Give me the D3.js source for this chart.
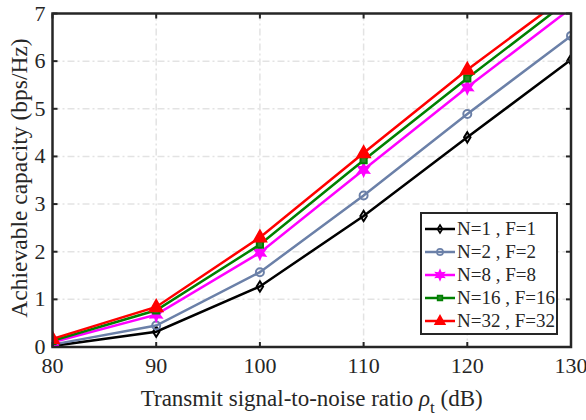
<!DOCTYPE html>
<html>
<head>
<script src="https://cdn.jsdelivr.net/npm/d3@7"></script>
<style>
  body { margin: 0; background: #fff; }
</style>
</head>
<body>
<div id="chart"></div>
<script>
// data
const snr = [80, 90, 100, 110, 120, 130];
const capN1 = [0.02, 0.32, 1.27, 2.75, 4.40, 6.03];
const capN2 = [0.05, 0.45, 1.57, 3.18, 4.89, 6.53];
const capN8 = [0.10, 0.68, 1.98, 3.72, 5.45, 7.11];
const capN16 = [0.13, 0.77, 2.15, 3.92, 5.64, 7.31];
const capN32 = [0.17, 0.84, 2.30, 4.07, 5.82, 7.44];
const seriesNames = ["N=1 , F=1", "N=2 , F=2", "N=8 , F=8", "N=16 , F=16", "N=32 , F=32"];
const xTicks = [80, 90, 100, 110, 120, 130];
const yTicks = [0, 1, 2, 3, 4, 5, 6, 7];

const series = [
  { name: seriesNames[0], values: capN1, color: "#000000", marker: "diamond" },
  { name: seriesNames[1], values: capN2, color: "#6b80a8", marker: "circle" },
  { name: seriesNames[2], values: capN8, color: "#ff00ff", marker: "hexagram" },
  { name: seriesNames[3], values: capN16, color: "#008000", marker: "square" },
  { name: seriesNames[4], values: capN32, color: "#ff0000", marker: "triangle" }
];

const FONT = "Liberation Serif";
const W = 586, H = 420;
const margin = { top: 13.5, right: 15, bottom: 73, left: 52.5 };
const width = W - margin.left - margin.right;
const height = H - margin.top - margin.bottom;

const svg = d3.select("#chart").append("svg")
  .attr("width", W).attr("height", H)
  .attr("font-family", FONT);
const g = svg.append("g")
  .attr("transform", "translate(" + margin.left + "," + margin.top + ")");

const x = d3.scaleLinear().domain([80, 130]).range([0, width]);
const y = d3.scaleLinear().domain([0, 7]).range([height, 0]);

// grid
g.append("g").selectAll("line").data(xTicks.slice(1, -1)).enter().append("line")
  .attr("x1", d => x(d)).attr("x2", d => x(d)).attr("y1", 0).attr("y2", height)
  .attr("stroke", "#e3e3e3").attr("stroke-width", 1.5).attr("stroke-dasharray", "7,3,2,3");
g.append("g").selectAll("line").data(yTicks.slice(1, -1)).enter().append("line")
  .attr("y1", d => y(d)).attr("y2", d => y(d)).attr("x1", 0).attr("x2", width)
  .attr("stroke", "#e3e3e3").attr("stroke-width", 1.5).attr("stroke-dasharray", "7,3,2,3");

// hexagram symbol (6-point star)
const hexagram = {
  draw(ctx, size) {
    const R = Math.sqrt(size) * 0.75, r = R * 0.5;
    for (let i = 0; i < 12; i++) {
      const a = Math.PI / 6 * i - Math.PI / 2;
      const rr = i % 2 === 0 ? R : r;
      if (i === 0) ctx.moveTo(rr * Math.cos(a), rr * Math.sin(a));
      else ctx.lineTo(rr * Math.cos(a), rr * Math.sin(a));
    }
    ctx.closePath();
  }
};
const diamond = {
  draw(ctx, size) {
    const h = Math.sqrt(size) * 0.7, w = h * 0.62;
    ctx.moveTo(0, -h); ctx.lineTo(w, 0); ctx.lineTo(0, h); ctx.lineTo(-w, 0); ctx.closePath();
  }
};
const tri = {
  draw(ctx, size) {
    const s = Math.sqrt(size) * 0.75;
    ctx.moveTo(0, -s); ctx.lineTo(s * 0.9, s * 0.6); ctx.lineTo(-s * 0.9, s * 0.6); ctx.closePath();
  }
};
function markerPath(type, scale) {
  const k = scale || 1;
  if (type === "diamond") return d3.symbol(diamond, 55 * k)();
  if (type === "circle") return d3.symbol(d3.symbolCircle, 50 * k)();
  if (type === "hexagram") return d3.symbol(hexagram, 65 * k)();
  if (type === "square") return d3.symbol(d3.symbolSquare, 38 * k)();
  return d3.symbol(tri, 85 * k)();
}
function markerFill(s) {
  if (s.marker === "hexagram" || s.marker === "triangle") return s.color;
  if (s.marker === "square") return "#2a8a2a";
  return "none";
}

svg.append("defs").append("clipPath").attr("id", "plotclip")
  .append("rect").attr("x", 0).attr("y", 0).attr("width", width).attr("height", height);

const plot = g.append("g").attr("clip-path", "url(#plotclip)");
const line = d3.line().x((d, i) => x(snr[i])).y(d => y(d));

series.forEach(s => {
  plot.append("path").datum(s.values)
    .attr("d", line).attr("fill", "none")
    .attr("stroke", s.color).attr("stroke-width", 2.5);
  plot.selectAll(null).data(s.values).enter().append("path")
    .attr("transform", (d, i) => "translate(" + x(snr[i]) + "," + y(d) + ")")
    .attr("d", markerPath(s.marker))
    .attr("fill", markerFill(s))
    .attr("stroke", s.color).attr("stroke-width", 2);
});

// axes box + ticks (inside, all four sides)
const axisColor = "#262626";
const tk = 5;
const ticksG = g.append("g").attr("stroke", axisColor).attr("stroke-width", 2);
xTicks.forEach(t => {
  ticksG.append("line").attr("x1", x(t)).attr("x2", x(t)).attr("y1", height).attr("y2", height - tk);
  ticksG.append("line").attr("x1", x(t)).attr("x2", x(t)).attr("y1", 0).attr("y2", tk);
});
yTicks.forEach(t => {
  ticksG.append("line").attr("y1", y(t)).attr("y2", y(t)).attr("x1", 0).attr("x2", tk);
  ticksG.append("line").attr("y1", y(t)).attr("y2", y(t)).attr("x1", width).attr("x2", width - tk);
});
g.append("rect").attr("x", 0).attr("y", 0).attr("width", width).attr("height", height)
  .attr("fill", "none").attr("stroke", axisColor).attr("stroke-width", 2.5);

// tick labels
g.append("g").selectAll("text").data(xTicks).enter().append("text")
  .attr("x", d => x(d)).attr("y", height + 26)
  .attr("text-anchor", "middle").attr("font-size", 22).attr("fill", axisColor)
  .text(d => d);
g.append("g").selectAll("text").data(yTicks).enter().append("text")
  .attr("x", -7).attr("y", d => y(d) + 7)
  .attr("text-anchor", "end").attr("font-size", 22).attr("fill", axisColor)
  .text(d => d);

// axis labels
const xl = svg.append("text")
  .attr("x", margin.left + width / 2).attr("y", H - 14)
  .attr("text-anchor", "middle").attr("font-size", 23).attr("fill", axisColor);
xl.append("tspan").text("Transmit signal-to-noise ratio ");
xl.append("tspan").attr("font-style", "italic").text("ρ");
xl.append("tspan").attr("font-size", 17).attr("dy", 7).text("t");
xl.append("tspan").attr("dy", -7).text(" (dB)");

svg.append("text")
  .attr("transform", "translate(27,178) rotate(-90)")
  .attr("text-anchor", "middle").attr("font-size", 23.5).attr("fill", axisColor)
  .text("Achievable capacity (bps/Hz)");

// legend
const lg = g.append("g").attr("transform", "translate(" + (421 - margin.left) + "," + (213 - margin.top) + ")");
lg.append("rect").attr("x", 0).attr("y", 0).attr("width", 136).attr("height", 121)
  .attr("fill", "#fff").attr("stroke", axisColor).attr("stroke-width", 2);
series.forEach((s, i) => {
  const yy = 16 + i * 23;
  lg.append("line").attr("x1", 4).attr("x2", 34).attr("y1", yy).attr("y2", yy)
    .attr("stroke", s.color).attr("stroke-width", 2.5);
  lg.append("path").attr("transform", "translate(19," + yy + ")")
    .attr("d", markerPath(s.marker, 0.6))
    .attr("fill", markerFill(s)).attr("stroke", s.color).attr("stroke-width", 1.6);
  lg.append("text").attr("x", 36).attr("y", yy + 6).attr("font-size", 19).attr("fill", axisColor).text(s.name);
});
</script>
</body>
</html>
